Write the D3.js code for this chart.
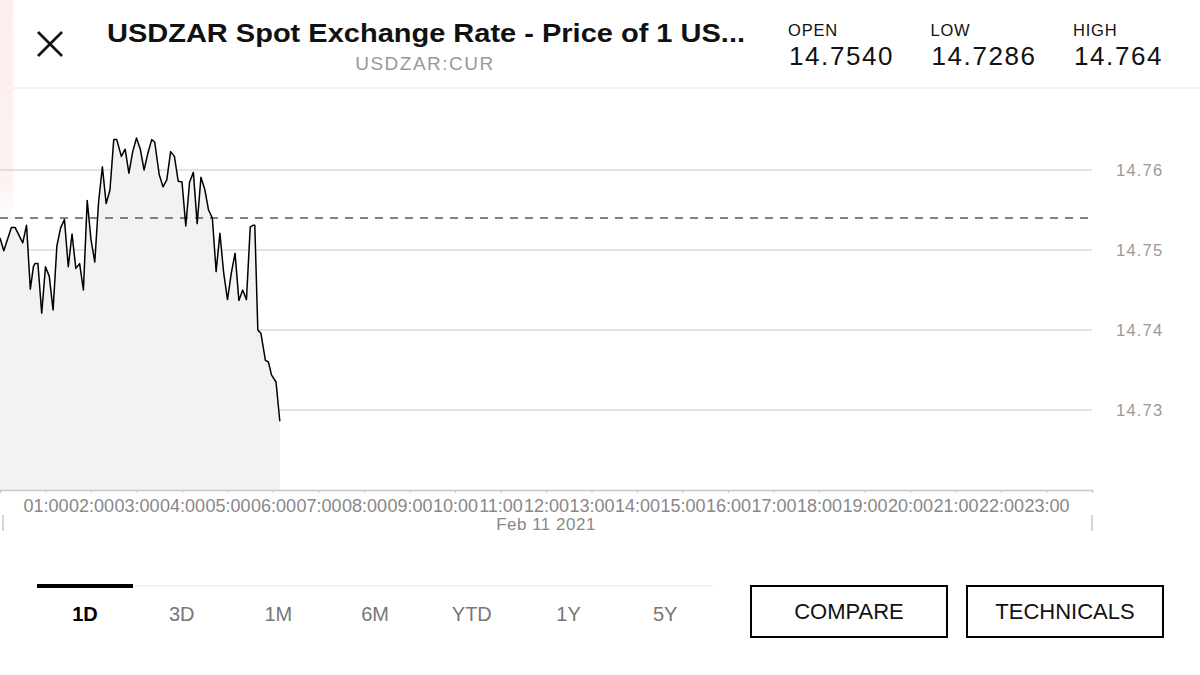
<!DOCTYPE html>
<html>
<head>
<meta charset="utf-8">
<script src="https://cdn.jsdelivr.net/npm/d3@7"></script>
<style>
  html, body { margin: 0; padding: 0; background: #fff; }
  svg { display: block; font-family: "Liberation Sans", Arial, Helvetica, sans-serif; }
</style>
</head>
<body>
<svg id="chart" width="1200" height="675"></svg>
<script>
// intraday quotes, Feb 11 2021
const times = [
  "00:00","00:05","00:15","00:20","00:30","00:35","00:40","00:44","00:46","00:50",
  "00:55","01:00","01:05","01:10","01:15","01:20","01:25","01:30","01:35","01:40",
  "01:45","01:50","01:55","02:00","02:05","02:10","02:15","02:20","02:25","02:30",
  "02:34","02:40","02:45","02:50","02:55","03:00","03:05","03:10","03:15","03:20",
  "03:24","03:30","03:35","03:40","03:45","03:50","03:55","04:00","04:05","04:10",
  "04:15","04:20","04:25","04:30","04:35","04:40","04:45","04:50","04:55","05:00",
  "05:05","05:10","05:15","05:20","05:25","05:30","05:34","05:36","05:40","05:44",
  "05:50","05:54","05:58","06:04","06:09"
];
const prices = [
  14.7515,14.7499,14.7528,14.7528,14.7509,14.7531,14.7451,14.7479,14.7483,14.7483,
  14.7421,14.7479,14.7467,14.7425,14.7505,14.7528,14.7538,14.7479,14.7520,14.7477,
  14.7483,14.7450,14.7562,14.7513,14.7485,14.7560,14.7604,14.7558,14.7575,14.7638,
  14.7638,14.7617,14.7626,14.7596,14.7623,14.7640,14.7626,14.7600,14.7621,14.7638,
  14.7635,14.7594,14.7579,14.7588,14.7623,14.7617,14.7586,14.7585,14.7530,14.7585,
  14.7597,14.7533,14.7591,14.7576,14.7550,14.7540,14.7473,14.7521,14.7471,14.7438,
  14.7471,14.7496,14.7437,14.7450,14.7438,14.7529,14.7531,14.7531,14.7400,14.7396,
  14.7362,14.7360,14.7344,14.7335,14.7286
];
const yTicks = [14.73, 14.74, 14.75, 14.76];
const statLabels = ["OPEN", "LOW", "HIGH"];
const statValues = ["14.7540", "14.7286", "14.764"];
const openValue = 14.754;
const tabs = ["1D", "3D", "1M", "6M", "YTD", "1Y", "5Y"];
const buttons = ["COMPARE", "TECHNICALS"];

const svg = d3.select("#chart");
const parse = d3.timeParse("%Y-%m-%d %H:%M");
const day = "2021-02-11";
const data = times.map((t, i) => ({ date: parse(day + " " + t), value: prices[i] }));

// faint strip on the left edge
const fade = svg.append("defs").append("linearGradient")
    .attr("id", "fade").attr("x1", 0).attr("y1", 0).attr("x2", 0).attr("y2", 1);
fade.append("stop").attr("offset", "0%").attr("stop-color", "#fdeeee");
fade.append("stop").attr("offset", "75%").attr("stop-color", "#fdf1f1");
fade.append("stop").attr("offset", "100%").attr("stop-color", "#fff");
svg.append("rect").attr("x", 0).attr("y", 0).attr("width", 13).attr("height", 230)
    .attr("fill", "url(#fade)");

// header
const close = svg.append("g").attr("stroke", "#111").attr("stroke-width", 2.6);
close.append("line").attr("x1", 38).attr("y1", 32).attr("x2", 62).attr("y2", 56);
close.append("line").attr("x1", 62).attr("y1", 32).attr("x2", 38).attr("y2", 56);

svg.append("text").attr("x", 107).attr("y", 42)
    .attr("font-size", 26).attr("font-weight", "bold").attr("fill", "#111")
    .attr("textLength", 638).attr("lengthAdjust", "spacingAndGlyphs")
    .text("USDZAR Spot Exchange Rate - Price of 1 US...");
svg.append("text").attr("x", 425).attr("y", 70)
    .attr("font-size", 19).attr("fill", "#999").attr("text-anchor", "middle")
    .attr("letter-spacing", 1.5)
    .text("USDZAR:CUR");

const stats = svg.selectAll("g.stat").data(statLabels).enter().append("g")
    .attr("class", "stat")
    .attr("transform", (d, i) => "translate(" + (788 + i * 142.5) + ",0)");
stats.append("text").attr("y", 36).attr("font-size", 16.5).attr("fill", "#111")
    .attr("letter-spacing", 0.8)
    .text(d => d);
stats.append("text").attr("x", 1).attr("y", 65).attr("font-size", 26).attr("fill", "#111")
    .attr("letter-spacing", 1.6)
    .text((d, i) => statValues[i]);

svg.append("line").attr("x1", 13).attr("x2", 1200).attr("y1", 88).attr("y2", 88)
    .attr("stroke", "#eeeeee").attr("stroke-width", 1.5);

// chart
const x = d3.scaleTime()
    .domain([parse(day + " 00:00"), d3.timeDay.offset(parse(day + " 00:00"), 1)])
    .range([0, 1092]);
const y = d3.scaleLinear().domain([14.72, 14.77]).range([490, 90]);

svg.append("g").selectAll("line").data(yTicks).enter().append("line")
    .attr("x1", 0).attr("x2", 1092)
    .attr("y1", d => y(d)).attr("y2", d => y(d))
    .attr("stroke", "#c8c8c8").attr("stroke-width", 1.2);

svg.append("path").datum(data)
    .attr("fill", "#f2f2f2")
    .attr("d", d3.area().x(d => x(d.date)).y0(y(14.72)).y1(d => y(d.value)));

svg.append("line").attr("x1", 0).attr("x2", 1092)
    .attr("y1", y(openValue)).attr("y2", y(openValue))
    .attr("stroke", "#555a60").attr("stroke-width", 1.6).attr("stroke-dasharray", "8,7");

svg.append("path").datum(data)
    .attr("fill", "none").attr("stroke", "#000").attr("stroke-width", 1.5)
    .attr("stroke-linejoin", "round")
    .attr("d", d3.line().x(d => x(d.date)).y(d => y(d.value)));

svg.append("g").selectAll("text").data(yTicks).enter().append("text")
    .attr("x", 1116).attr("y", d => y(d)).attr("dy", "0.35em")
    .attr("font-size", 16.5).attr("fill", "#999").attr("letter-spacing", 1.2)
    .text(d => d3.format(".2f")(d));

const xAxis = svg.append("g").attr("transform", "translate(0,490)")
    .call(d3.axisBottom(x)
        .ticks(d3.timeHour.every(1))
        .tickSize(3)
        .tickFormat(d => d.getHours() === 0 ? "" : d3.timeFormat("%H:%M")(d)));
xAxis.select(".domain").attr("stroke", "#c8c8c8").attr("stroke-width", 1.5);
xAxis.selectAll(".tick line").attr("stroke", "#c8c8c8");
xAxis.selectAll(".tick text")
    .attr("y", 22).attr("dy", 0)
    .attr("font-size", 18).attr("fill", "#888")
    .attr("font-family", "Liberation Sans, Arial, sans-serif");

svg.append("text").attr("x", x(parse(day + " 12:00"))).attr("y", 530)
    .attr("text-anchor", "middle").attr("font-size", 17).attr("fill", "#888")
    .attr("letter-spacing", 0.5)
    .text("Feb 11 2021");
svg.append("g").selectAll("line").data([3, 1092]).enter().append("line")
    .attr("x1", d => d).attr("x2", d => d).attr("y1", 515).attr("y2", 531)
    .attr("stroke", "#c8c8c8").attr("stroke-width", 1.5);

// range tabs
svg.append("line").attr("x1", 37).attr("x2", 713).attr("y1", 586).attr("y2", 586)
    .attr("stroke", "#eeeeee").attr("stroke-width", 1.5);
svg.append("rect").attr("x", 37).attr("y", 584).attr("width", 96).attr("height", 4)
    .attr("fill", "#000");
svg.append("g").selectAll("text").data(tabs).enter().append("text")
    .attr("x", (d, i) => 85 + i * 96.7).attr("y", 621)
    .attr("text-anchor", "middle").attr("font-size", 20)
    .attr("font-weight", (d, i) => i === 0 ? "bold" : "normal")
    .attr("fill", (d, i) => i === 0 ? "#000" : "#777")
    .text(d => d);

// buttons
const btn = svg.selectAll("g.btn").data(buttons).enter().append("g")
    .attr("class", "btn")
    .attr("transform", (d, i) => "translate(" + (751 + i * 216) + ",586)");
btn.append("rect").attr("width", 196).attr("height", 51)
    .attr("fill", "#fff").attr("stroke", "#000").attr("stroke-width", 2);
btn.append("text").attr("x", 98).attr("y", 33)
    .attr("text-anchor", "middle").attr("font-size", 22).attr("fill", "#111")
    .text(d => d);
</script>
</body>
</html>
